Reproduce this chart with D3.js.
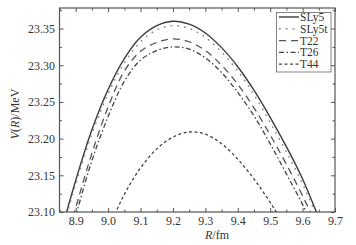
<!DOCTYPE html>
<html>
<head>
<meta charset="utf-8">
<script src="https://d3js.org/d3.v7.min.js"></script>
<style>
  body { margin: 0; background: #fff; }
  text { font-family: "Liberation Serif", "Times New Roman", serif; fill: #333; }
</style>
</head>
<body>
<svg width="356" height="245"></svg>
<script>
// R grid (fm) and potential values V(R) (MeV)
const R = [8.85, 8.90, 8.95, 9.00, 9.05, 9.10, 9.15, 9.20, 9.25, 9.30, 9.35, 9.40, 9.45, 9.50, 9.55, 9.60, 9.65, 9.70];
const SLy5  = [23.065, 23.143, 23.212, 23.267, 23.309, 23.338, 23.354, 23.360, 23.356, 23.344, 23.324, 23.298, 23.266, 23.229, 23.189, 23.145, 23.092, 23.040];
const SLy5t = [23.060, 23.138, 23.206, 23.261, 23.303, 23.332, 23.348, 23.354, 23.350, 23.338, 23.318, 23.292, 23.260, 23.222, 23.182, 23.138, 23.088, 23.036];
const T22   = [23.030, 23.106, 23.180, 23.243, 23.292, 23.319, 23.331, 23.336, 23.332, 23.320, 23.300, 23.274, 23.242, 23.205, 23.165, 23.122, 23.075, 23.025];
const T26   = [23.020, 23.095, 23.170, 23.230, 23.278, 23.307, 23.320, 23.325, 23.322, 23.310, 23.290, 23.263, 23.231, 23.193, 23.152, 23.110, 23.062, 23.010];
const R44   = [8.95, 9.00, 9.05, 9.10, 9.15, 9.20, 9.25, 9.30, 9.35, 9.40, 9.45, 9.50, 9.55, 9.60];
const T44   = [23.020, 23.075, 23.124, 23.160, 23.186, 23.202, 23.209, 23.206, 23.193, 23.172, 23.145, 23.113, 23.077, 23.037];

const xTicks = [8.9, 9.0, 9.1, 9.2, 9.3, 9.4, 9.5, 9.6, 9.7];
const yTicks = [23.10, 23.15, 23.20, 23.25, 23.30, 23.35];

const series = [
  { name: "SLy5",  r: R,   v: SLy5,  color: "#3c3c3c", dash: null,            w: 1.4 },
  { name: "SLy5t", r: R,   v: SLy5t, color: "#8a8a8a", dash: "1.8,5",         w: 1.4 },
  { name: "T22",   r: R,   v: T22,   color: "#555",    dash: "7,5",           w: 1.3 },
  { name: "T26",   r: R,   v: T26,   color: "#444",    dash: "5,2.5,1.5,2.5", w: 1.3 },
  { name: "T44",   r: R44, v: T44,   color: "#444",    dash: "3,2.5",         w: 1.3 }
];

const svg = d3.select("svg");
const pL = 59.5, pR = 335, pT = 8, pB = 212;

const x = d3.scaleLinear().domain([8.85, 9.7]).range([pL, pR]);
const y = d3.scaleLinear().domain([23.10, 23.378]).range([pB, pT]);

// clip
svg.append("clipPath").attr("id", "clip")
  .append("rect").attr("x", pL).attr("y", pT).attr("width", pR - pL).attr("height", pB - pT);

const line = d3.line().curve(d3.curveCatmullRom)
  .x(d => x(d[0])).y(d => y(d[1]));

const g = svg.append("g").attr("clip-path", "url(#clip)");
series.forEach(s => {
  g.append("path")
    .datum(s.r.map((r, i) => [r, s.v[i]]))
    .attr("fill", "none")
    .attr("stroke", s.color)
    .attr("stroke-width", s.w)
    .attr("stroke-dasharray", s.dash)
    .attr("d", line);
});

// axes (ticks inward, mirrored)
const xMinor = d3.range(8.85, 9.701, 0.05).map(v => +v.toFixed(2)).filter(v => !xTicks.some(t => Math.abs(t - v) < 1e-6));
const yMinor = d3.range(23.125, 23.38, 0.05).map(v => +v.toFixed(3));

function styleAxis(sel) {
  sel.select(".domain").remove();
  sel.selectAll("line").attr("stroke", "#555").attr("stroke-width", 1);
  sel.selectAll("text").style("font-size", "12px").attr("fill", "#333")
     .style("font-family", "'Liberation Serif', serif");
}

svg.append("g").attr("transform", `translate(0,${pB})`)
  .call(d3.axisBottom(x).tickValues(xTicks).tickFormat(d3.format(".1f")).tickSize(-4).tickPadding(4))
  .call(styleAxis);
svg.append("g").attr("transform", `translate(0,${pB})`)
  .call(d3.axisBottom(x).tickValues(xMinor).tickFormat("").tickSize(-2.5))
  .call(styleAxis);
svg.append("g").attr("transform", `translate(0,${pT})`)
  .call(d3.axisTop(x).tickValues(xTicks).tickFormat("").tickSize(-4))
  .call(styleAxis);
svg.append("g").attr("transform", `translate(0,${pT})`)
  .call(d3.axisTop(x).tickValues(xMinor).tickFormat("").tickSize(-2.5))
  .call(styleAxis);

svg.append("g").attr("transform", `translate(${pL},0)`)
  .call(d3.axisLeft(y).tickValues(yTicks).tickFormat(d3.format(".2f")).tickSize(-4).tickPadding(4.5))
  .call(styleAxis);
svg.append("g").attr("transform", `translate(${pL},0)`)
  .call(d3.axisLeft(y).tickValues(yMinor).tickFormat("").tickSize(-2.5))
  .call(styleAxis);
svg.append("g").attr("transform", `translate(${pR},0)`)
  .call(d3.axisRight(y).tickValues(yTicks).tickFormat("").tickSize(-4))
  .call(styleAxis);
svg.append("g").attr("transform", `translate(${pR},0)`)
  .call(d3.axisRight(y).tickValues(yMinor).tickFormat("").tickSize(-2.5))
  .call(styleAxis);

// frame
svg.append("rect")
  .attr("x", pL).attr("y", pT).attr("width", pR - pL).attr("height", pB - pT)
  .attr("fill", "none").attr("stroke", "#555").attr("stroke-width", 1.2);

// axis titles
const yt = svg.append("text")
  .attr("transform", "translate(19,114) rotate(-90)")
  .attr("text-anchor", "middle")
  .style("font-size", "12px");
yt.append("tspan").style("font-style", "italic").text("V");
yt.append("tspan").text("(");
yt.append("tspan").style("font-style", "italic").text("R");
yt.append("tspan").text(")/MeV");

const xt = svg.append("text")
  .attr("x", 217).attr("y", 239)
  .attr("text-anchor", "middle")
  .style("font-size", "12px");
xt.append("tspan").style("font-style", "italic").text("R");
xt.append("tspan").text("/fm");

// legend
const lg = svg.append("g");
lg.append("rect").attr("x", 276.5).attr("y", 12.5).attr("width", 54.5).attr("height", 59.5)
  .attr("fill", "#fff").attr("stroke", "#666").attr("stroke-width", 0.8);
series.forEach((s, i) => {
  const by = 21 + i * 11.8;
  lg.append("line")
    .attr("x1", 279).attr("x2", 299).attr("y1", by - 4).attr("y2", by - 4)
    .attr("stroke", s.color).attr("stroke-width", s.w)
    .attr("stroke-dasharray", s.dash);
  lg.append("text").attr("x", 300).attr("y", by)
    .style("font-size", "11.5px").text(s.name);
});
</script>
</body>
</html>
